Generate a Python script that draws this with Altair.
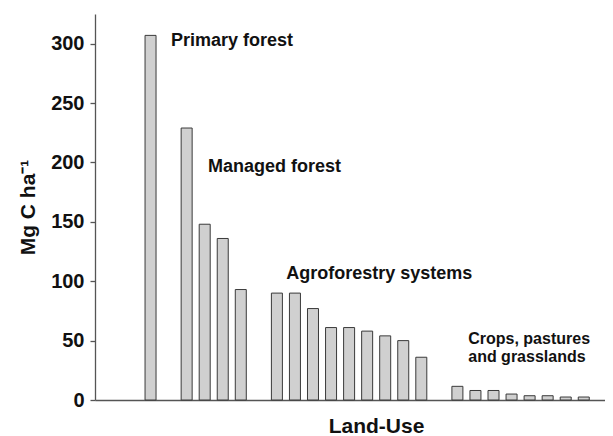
import altair as alt
import pandas as pd

# Bar positions (slot index) and carbon stocks (Mg C/ha)
positions = [0, 2, 3, 4, 5, 7, 8, 9, 10, 11, 12, 13, 14, 15,
             17, 18, 19, 20, 21, 22, 23, 24]
values = [307, 229, 148, 136, 93, 90, 90, 77, 61, 61, 58, 54, 50, 36,
          11.5, 8, 8, 5, 3.6, 3.6, 2.5, 2.5]
groups = (["Primary forest"] + ["Managed forest"] * 4 +
          ["Agroforestry systems"] * 9 + ["Crops, pastures and grasslands"] * 8)

# Group annotations (data coordinates)
label_text = ["Primary forest", "Managed forest", "Agroforestry systems",
              "Crops, pastures", "and grasslands"]
label_x = [1.13, 3.18, 7.52, 17.6, 17.6]
label_y = [298, 192, 102, 46.8, 32.0]
label_size = [18, 18, 18, 16, 16]

bars_df = pd.DataFrame({"pos": positions, "value": values, "group": groups})
labels_df = pd.DataFrame({"text": label_text, "x": label_x, "y": label_y,
                          "size": label_size})

FONT = "Liberation Sans"
xscale = alt.Scale(domain=[-2.8, 24.9], nice=False, zero=False)
yscale = alt.Scale(domain=[0, 325], nice=False)

bars = alt.Chart(bars_df).mark_bar(
    size=11, fill="#d0d0d0", stroke="#3a3a3a", strokeWidth=1
).encode(
    x=alt.X("pos:Q", scale=xscale,
            axis=alt.Axis(title="Land-Use", labels=False, ticks=False, grid=False,
                          domainColor="#555555", domainWidth=1.3,
                          titleFont=FONT, titleFontSize=21, titleFontWeight="bold",
                          titleColor="#111111", titleX=281, titlePadding=15)),
    y=alt.Y("value:Q", scale=yscale,
            axis=alt.Axis(title="Mg C ha⁻¹", values=[0, 50, 100, 150, 200, 250, 300],
                          grid=False, tickSize=5, labelPadding=6,
                          domainColor="#555555", domainWidth=1.3,
                          tickColor="#555555", tickWidth=1.3,
                          labelFont=FONT, labelFontSize=20, labelFontWeight="bold",
                          labelColor="#111111",
                          titleFont=FONT, titleFontSize=21, titleFontWeight="bold",
                          titleColor="#111111", titlePadding=12)),
    tooltip=["group:N", "value:Q"],
)

labels = alt.Chart(labels_df).mark_text(
    align="left", baseline="alphabetic", font=FONT,
    fontWeight="bold", color="#111111"
).encode(
    x=alt.X("x:Q", scale=xscale),
    y=alt.Y("y:Q", scale=yscale),
    size=alt.Size("size:Q", scale=None, legend=None),
    text="text:N",
)

chart = alt.layer(bars, labels).properties(
    width=510, height=386,
    autosize=alt.AutoSizeParams(type="none"),
    padding={"left": 87, "top": 6, "right": 0, "bottom": 36},
).configure_view(stroke=None)

chart.save("out.html", embed_options={"renderer": "svg", "actions": False})
